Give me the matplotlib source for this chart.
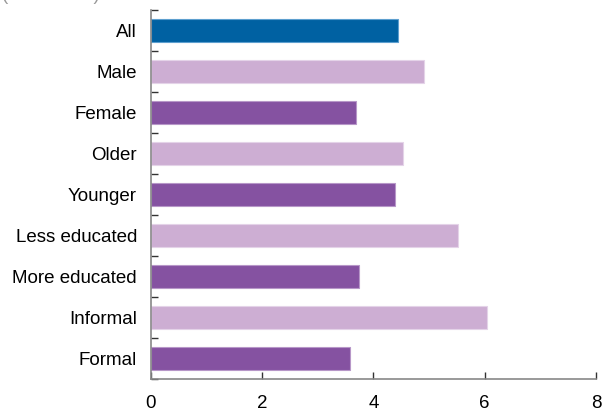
import numpy as np
import matplotlib
matplotlib.use("Agg")
import matplotlib.pyplot as plt

plt.rcParams['font.family'] = ['Liberation Sans', 'DejaVu Sans']

# data
categories = ["All", "Male", "Female", "Older", "Younger",
              "Less educated", "More educated", "Informal", "Formal"]
values = [4.44, 4.90, 3.68, 4.53, 4.38, 5.52, 3.74, 6.04, 3.58]
groups = ["all", "light", "dark", "light", "dark", "light", "dark", "light", "dark"]
xticks = [0, 2, 4, 6, 8]

colors = {"all": "#0061A2", "light": "#CDAED3", "dark": "#8552A1"}
edges = {"all": "#5D9FCF", "light": "#E4D3E8", "dark": "#B797C8"}

fig = plt.figure(figsize=(6.02, 4.12), dpi=100)
ax = fig.add_axes([0.2508, 0.0801, 0.7392, 0.8956])

y = np.arange(len(categories))
ax.barh(y, values, height=0.58,
        color=[colors[g] for g in groups],
        edgecolor=[edges[g] for g in groups], linewidth=0.8)

ax.set_xlim(0, 8)
ax.set_ylim(len(categories) - 0.5, -0.5)

ax.set_xticks(xticks)
ax.set_xticklabels([str(t) for t in xticks])
ax.set_yticks(y)
ax.set_yticklabels(categories)
ax.set_yticks(np.arange(len(categories) + 1) - 0.5, minor=True)

ax.tick_params(axis='y', which='major', length=0, pad=10, labelsize=13.5)
ax.tick_params(axis='y', which='minor', direction='in', length=5, width=1, color='#333333')
ax.tick_params(axis='x', direction='in', length=5, width=1, color='#333333', pad=11.5, labelsize=13.5)

for s in ['top', 'right']:
    ax.spines[s].set_visible(False)
for s in ['left', 'bottom']:
    ax.spines[s].set_color('#888888')
    ax.spines[s].set_linewidth(1.2)

# unit label, mostly cut off at the top (as in the source)
fig.text(0.003, 1.0, "(thousands)", color='#999999', fontsize=13.5, va='baseline', ha='left')

fig.savefig("out.png", dpi=100)
